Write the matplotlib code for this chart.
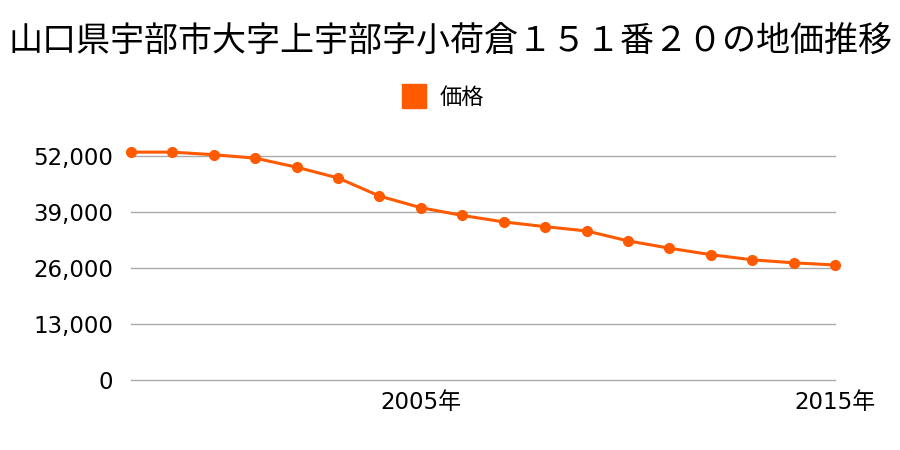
import matplotlib
matplotlib.use("Agg")
import matplotlib.pyplot as plt
from matplotlib.lines import Line2D

plt.rcParams['font.family'] = ['Noto Sans CJK JP', 'DejaVu Sans']

TITLE = "山口県宇部市大字上宇部字小荷倉１５１番２０の地価推移"
SERIES_NAME = "価格"
years = list(range(1998, 2016))
prices = [52900, 52900, 52300, 51500, 49400, 46900, 42700, 40000, 38200,
          36700, 35600, 34600, 32300, 30600, 29100, 27900, 27200, 26700]
y_ticks = [0, 13000, 26000, 39000, 52000]
x_ticks = [2005, 2015]
x_labels = ["2005年", "2015年"]

COLOR = "#ff5a00"
TICK_FONT = ['DejaVu Sans', 'Noto Sans CJK JP']

fig = plt.figure(figsize=(9, 4.5), dpi=100)
ax = fig.add_axes([131 / 900, 1 - 380 / 450, (835 - 131) / 900, (380 - 156) / 450])

ax.plot(years, prices, color=COLOR, lw=2.2, marker="o", ms=7, clip_on=False, zorder=3)

ax.set_xlim(years[0], years[-1])
ax.set_ylim(0, 52000)
ax.set_yticks(y_ticks)
ax.set_yticklabels([f"{v:,}" for v in y_ticks], family=TICK_FONT, fontsize=16.5)
ax.set_xticks(x_ticks)
ax.set_xticklabels(x_labels, family=TICK_FONT, fontsize=16.5)
ax.grid(axis="y", color="#aaaaaa", lw=1)
for gl in ax.get_ygridlines():
    gl.set_clip_on(False)
ax.set_axisbelow(True)
for s in ax.spines.values():
    s.set_visible(False)
ax.tick_params(axis="both", length=0)
ax.tick_params(axis="y", pad=13)
ax.tick_params(axis="x", pad=8)

fig.text(0.5, 1 - 42 / 450, TITLE, ha="center", va="center", fontsize=24.5)

handle = Line2D([], [], color=COLOR, marker="s", ls="none", ms=17)
fig.legend([handle], [SERIES_NAME], loc="center", bbox_to_anchor=(0.487, 1 - 97 / 450),
           frameon=False, fontsize=16, handletextpad=0.15)

fig.savefig("out.png", dpi=100)
